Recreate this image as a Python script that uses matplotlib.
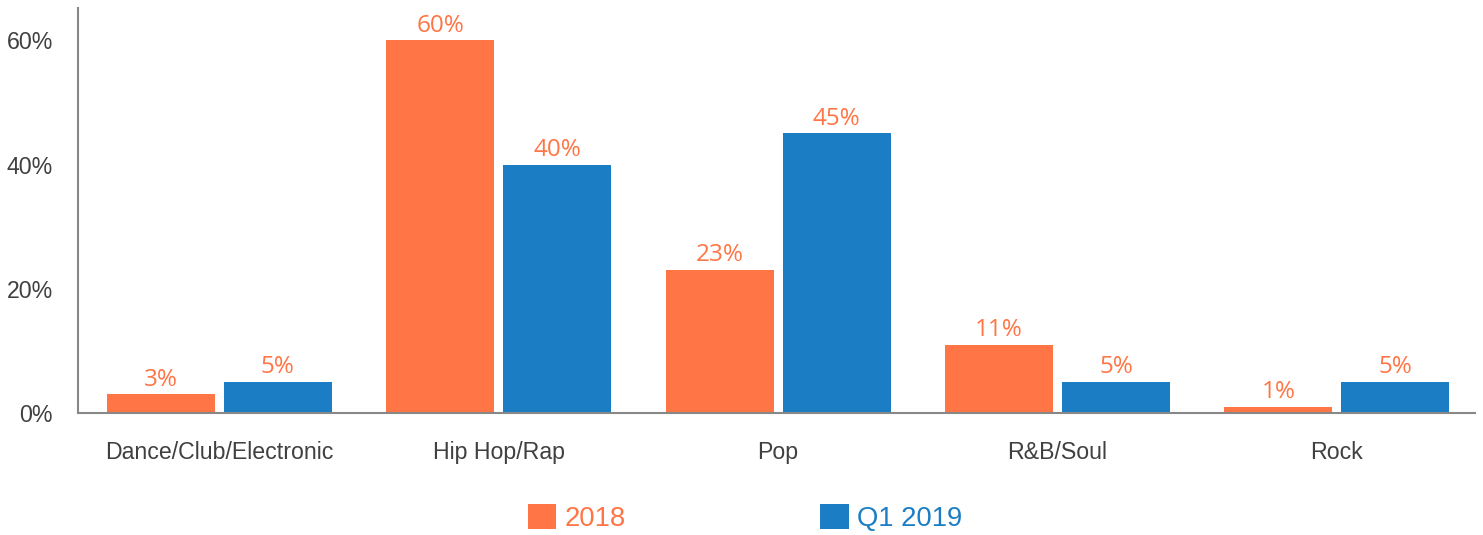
import matplotlib
matplotlib.use("Agg")
import matplotlib.pyplot as plt
import numpy as np

categories = ["Dance/Club/Electronic", "Hip Hop/Rap", "Pop", "R&B/Soul", "Rock"]
series_names = ["2018", "Q1 2019"]
values_2018 = [3, 60, 23, 11, 1]
values_q1_2019 = [5, 40, 45, 5, 5]
yticks = [0, 20, 40, 60]

orange = "#FF7545"
blue = "#1B7DC4"

fig = plt.figure(figsize=(14.83, 5.35), dpi=100)
ax = fig.add_axes([78/1483, 1-413/535, (1475-78)/1483, (413-8)/535])

x = np.arange(len(categories))
w = 0.3865
off = 0.2094
b1 = ax.bar(x - off, values_2018, w, color=orange, label=series_names[0])
b2 = ax.bar(x + off, values_q1_2019, w, color=blue, label=series_names[1])

for bars, vals in [(b1, values_2018), (b2, values_q1_2019)]:
    for r, v in zip(bars, vals):
        ax.annotate(f"{v}%", (r.get_x() + r.get_width()/2, v), xytext=(0, 2),
                    textcoords="offset points", ha="center", va="bottom",
                    color=orange, fontsize=17.5, family="Open Sans")

ax.set_xlim(-0.506, 4.494)
ax.set_ylim(0, 65.2)
ax.set_yticks(yticks)
ax.set_yticklabels([f"{t}%" for t in yticks])
ax.set_xticks(x)
ax.set_xticklabels(categories)
ax.tick_params(axis="both", length=0, labelsize=16.7, labelcolor="#404040")
ax.tick_params(axis="y", pad=18)
ax.tick_params(axis="x", pad=20)
for lab in ax.get_xticklabels() + ax.get_yticklabels():
    lab.set_family("Liberation Sans")
for s in ["top", "right"]:
    ax.spines[s].set_visible(False)
ax.spines["left"].set_color("#888888")
ax.spines["left"].set_linewidth(1.5)
ax.spines["bottom"].set_color("#888888")
ax.spines["bottom"].set_linewidth(1.5)

leg = fig.legend(handles=[b1, b2], labels=series_names, loc="center",
                 bbox_to_anchor=(745/1483, 1-518/535), ncol=2, frameon=False,
                 prop={"family": "Liberation Sans", "size": 19.7},
                 handlelength=1.05, handleheight=1.05, handletextpad=0.3,
                 columnspacing=7.1)
for t, c in zip(leg.get_texts(), [orange, blue]):
    t.set_color(c)

fig.savefig("out.png", dpi=100)
